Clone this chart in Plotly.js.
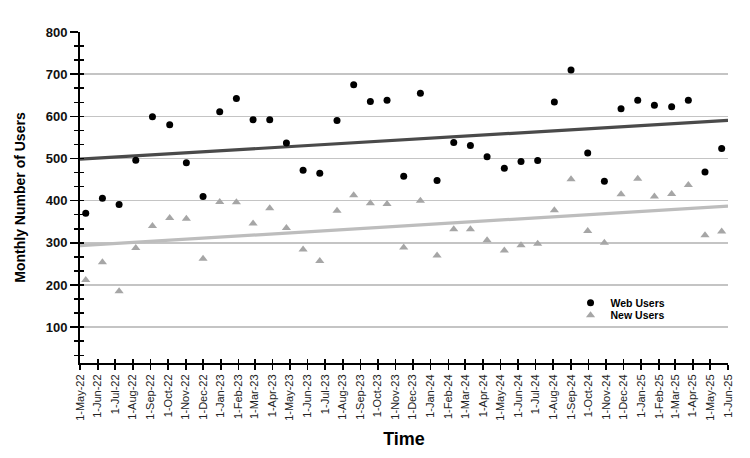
<!DOCTYPE html>
<html>
<head>
<meta charset="utf-8">
<script src="https://cdn.plot.ly/plotly-3.0.1.min.js"></script>
<style>html,body{margin:0;padding:0;background:#fff;}#chart{width:750px;height:458px;}</style>
</head>
<body>
<div id="chart"></div>
<script>
const obsDates = ['2022-05-11','2022-06-09','2022-07-08','2022-08-06','2022-09-04','2022-10-04','2022-11-02','2022-12-01','2022-12-30','2023-01-28','2023-02-26','2023-03-27','2023-04-25','2023-05-24','2023-06-22','2023-07-22','2023-08-20','2023-09-18','2023-10-17','2023-11-15','2023-12-14','2024-01-12','2024-02-10','2024-03-10','2024-04-08','2024-05-08','2024-06-06','2024-07-05','2024-08-03','2024-09-01','2024-09-30','2024-10-29','2024-11-27','2024-12-26','2025-01-24','2025-02-23','2025-03-24','2025-04-22','2025-05-21'];
const webUsers = [370,406,391,496,599,580,490,410,611,642,592,592,537,472,465,590,675,635,638,458,655,448,538,531,504,477,493,495,634,710,513,446,618,638,626,623,638,468,524];
const newUsers = [212,254,185,288,340,359,357,262,397,396,346,382,335,284,257,376,413,394,392,289,400,270,332,332,306,282,294,298,377,451,328,300,415,452,410,416,437,318,327];
const tickDates = ['2022-05-01','2022-06-01','2022-07-01','2022-08-01','2022-09-01','2022-10-01','2022-11-01','2022-12-01','2023-01-01','2023-02-01','2023-03-01','2023-04-01','2023-05-01','2023-06-01','2023-07-01','2023-08-01','2023-09-01','2023-10-01','2023-11-01','2023-12-01','2024-01-01','2024-02-01','2024-03-01','2024-04-01','2024-05-01','2024-06-01','2024-07-01','2024-08-01','2024-09-01','2024-10-01','2024-11-01','2024-12-01','2025-01-01','2025-02-01','2025-03-01','2025-04-01','2025-05-01','2025-06-01'];
const tickLabels = ['1-May-22','1-Jun-22','1-Jul-22','1-Aug-22','1-Sep-22','1-Oct-22','1-Nov-22','1-Dec-22','1-Jan-23','1-Feb-23','1-Mar-23','1-Apr-23','1-May-23','1-Jun-23','1-Jul-23','1-Aug-23','1-Sep-23','1-Oct-23','1-Nov-23','1-Dec-23','1-Jan-24','1-Feb-24','1-Mar-24','1-Apr-24','1-May-24','1-Jun-24','1-Jul-24','1-Aug-24','1-Sep-24','1-Oct-24','1-Nov-24','1-Dec-24','1-Jan-25','1-Feb-25','1-Mar-25','1-Apr-25','1-May-25','1-Jun-25'];
const seriesNames = ['Web Users','New Users'];

const xStart = tickDates[0], xEnd = tickDates[tickDates.length-1];

function trend(dates, vals) {
  const xs = dates.map(d => Date.parse(d));
  const n = xs.length;
  const mx = xs.reduce((a,b)=>a+b,0)/n, my = vals.reduce((a,b)=>a+b,0)/n;
  let sxy=0, sxx=0;
  for (let i=0;i<n;i++){ sxy += (xs[i]-mx)*(vals[i]-my); sxx += (xs[i]-mx)*(xs[i]-mx); }
  const b = sxy/sxx, a = my - b*mx;
  return [xStart, xEnd].map(d => a + b*Date.parse(d));
}

const FONT = 'Liberation Sans, Arial, sans-serif';

const traces = [
  {x:[xStart,xEnd], y:trend(obsDates, webUsers), mode:'lines', line:{color:'#4a4a4a', width:3.2}, showlegend:false, hoverinfo:'skip'},
  {x:[xStart,xEnd], y:trend(obsDates, newUsers), mode:'lines', line:{color:'#bdbdbd', width:3.2}, showlegend:false, hoverinfo:'skip'},
  {x:obsDates, y:webUsers, name:seriesNames[0], mode:'markers', marker:{color:'#000', size:7, symbol:'circle'}, legend:'legend'},
  {x:obsDates, y:newUsers, name:seriesNames[1], mode:'markers', marker:{color:'#a6a6a6', size:8, symbol:'triangle-up'}, legend:'legend2'},
  {x:obsDates, y:webUsers, xaxis:'x2', yaxis:'y2', mode:'markers', marker:{opacity:0}, showlegend:false, hoverinfo:'skip'}
];

const layout = {
  width:750, height:458,
  margin:{l:80, r:22, t:32, b:95},
  paper_bgcolor:'#fff', plot_bgcolor:'#fff',
  font:{family:FONT, color:'#111'},
  xaxis:{
    type:'date', range:[xStart,xEnd], tickmode:'array', tickvals:tickDates, ticktext:tickLabels,
    tickangle:-90, tickfont:{size:11, color:'#222'}, ticks:'outside', ticklen:5, tickcolor:'#000', tickwidth:1.5,
    showline:true, linecolor:'#000', linewidth:2, showgrid:false, zeroline:false,
    title:{text:'Time', font:{size:18, family:FONT, weight:'bold', color:'#000'}, standoff:13}
  },
  xaxis2:{type:'date', range:[xStart,xEnd], overlaying:'x', tickmode:'array', tickvals:tickDates, ticktext:tickLabels,
    showticklabels:false, ticks:'inside', ticklen:4, tickcolor:'#000', tickwidth:1.5, showgrid:false, zeroline:false, showline:false},
  yaxis:{
    range:[15,800], tickmode:'linear', tick0:0, dtick:100,
    tickfont:{size:13, weight:'bold', color:'#111'}, ticks:'outside', ticklen:8, tickcolor:'#000', tickwidth:1.5,
    minor:{ticks:'outside', ticklen:4, tick0:0, dtick:100/3, tickcolor:'#000', tickwidth:1.5, showgrid:false},
    showline:true, linecolor:'#000', linewidth:2, showgrid:true, gridcolor:'#c4c4c4', gridwidth:1.5, zeroline:false,
    title:{text:'Monthly Number of Users', font:{size:14, family:FONT, weight:'bold', color:'#000'}, standoff:17}
  },
  yaxis2:{range:[15,800], overlaying:'y', tickmode:'linear', tick0:0, dtick:100/3, showticklabels:false,
    ticks:'inside', ticklen:4, tickcolor:'#000', tickwidth:1.5, showgrid:false, zeroline:false, showline:false},
  legend:{x:0.757, y:0.226, xanchor:'left', yanchor:'top', bgcolor:'rgba(0,0,0,0)', font:{size:10.5, weight:'bold', color:'#000'}, itemwidth:30},
  legend2:{x:0.757, y:0.188, xanchor:'left', yanchor:'top', bgcolor:'rgba(0,0,0,0)', font:{size:10.5, weight:'bold', color:'#000'}, itemwidth:30},
  showlegend:true
};

Plotly.newPlot('chart', traces, layout, {staticPlot:true});
</script>
</body>
</html>
